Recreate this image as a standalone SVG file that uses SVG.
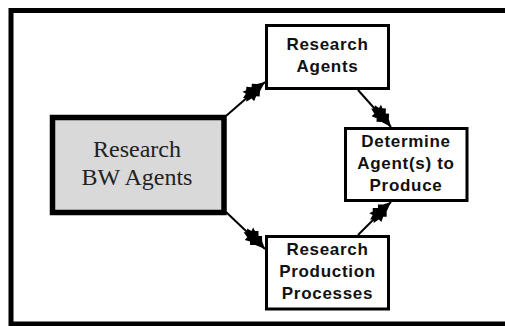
<svg xmlns="http://www.w3.org/2000/svg" width="505" height="326" viewBox="0 0 505 326">
<style>
.frame{fill:none;stroke:#000;stroke-width:5}
.box{fill:#fff;stroke:#000;stroke-width:3}
.main{fill:#d9d9d9;stroke:#000;stroke-width:5.5}
.lbl{font-family:"Liberation Sans",Arial,sans-serif;font-weight:bold;font-size:17px;letter-spacing:0.7px;fill:#111;text-anchor:middle}
.serif{font-family:"Liberation Serif","Times New Roman",serif;font-size:24px;fill:#222;text-anchor:middle}
.conn{stroke:#000;stroke-width:2;fill:none;marker-end:url(#claw)}
</style>
<defs>
<marker id="claw" viewBox="-24 -8 26 16" markerWidth="32" markerHeight="19.7" refX="0" refY="0" orient="auto" markerUnits="userSpaceOnUse">
<path d="M0,0 L-6,-3 L-9,-6 L-11,-4 L-14,-7 L-16,-5 L-19,-6 L-18,-3 L-22,-2 L-20,0 L-22,2 L-17,3 L-17,6 L-13,4 L-11,6 L-8,3 Z" fill="#000"/>
</marker>
</defs>
<rect class="frame" x="11" y="10.5" width="510" height="313.5"/>
<g id="connectors">
<line class="conn" x1="226" y1="116" x2="265" y2="82"/>
<line class="conn" x1="358" y1="90" x2="391" y2="127"/>
<line class="conn" x1="226" y1="212" x2="265" y2="249"/>
<line class="conn" x1="358" y1="235" x2="391" y2="202"/>
</g>
<g id="research-bw-agents">
<rect class="main" x="52.5" y="117.5" width="171.5" height="95"/>
<text class="serif" x="137" y="157">Research</text>
<text class="serif" x="137" y="185">BW Agents</text>
</g>
<g id="research-agents">
<rect class="box" x="266.5" y="25.5" width="122" height="63"/>
<text class="lbl" x="327.5" y="50">Research</text>
<text class="lbl" x="327.5" y="72">Agents</text>
</g>
<g id="determine">
<rect class="box" x="345.5" y="128.5" width="121.5" height="72"/>
<text class="lbl" x="406" y="147">Determine</text>
<text class="lbl" x="406" y="169">Agent(s) to</text>
<text class="lbl" x="406" y="191">Produce</text>
</g>
<g id="research-production">
<rect class="box" x="266.5" y="236.5" width="122" height="72.5"/>
<text class="lbl" x="327.5" y="255">Research</text>
<text class="lbl" x="327.5" y="277">Production</text>
<text class="lbl" x="327.5" y="299">Processes</text>
</g>
</svg>
